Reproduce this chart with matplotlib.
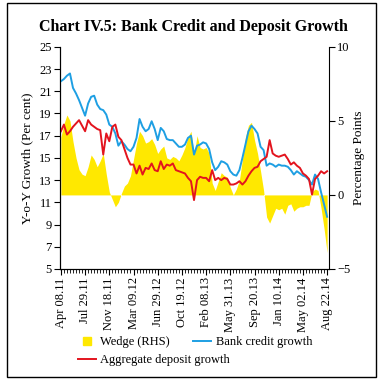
import numpy as np
import matplotlib
matplotlib.use("Agg")
import matplotlib.pyplot as plt
from matplotlib.lines import Line2D
from matplotlib.patches import Rectangle

plt.rcParams['font.family'] = ['Liberation Serif', 'DejaVu Serif']

tick_labels = ['Apr 08.11', 'Jul 29.11', 'Nov 18.11', 'Mar 09.12', 'Jun 29.12', 'Oct 19.12',
               'Feb 08.13', 'May 31.13', 'Sep 20.13', 'Jan 10.14', 'May 02.14', 'Aug 22.14']

# fortnightly y-o-y growth, per cent
credit = [21.9, 22.1, 22.4, 22.6, 21.3, 20.8, 20.2, 19.5, 18.8, 19.9,
          20.5, 20.6, 19.8, 19.4, 19.3, 18.9, 18.0, 17.8, 17.2, 16.1,
          16.5, 16.2, 15.8, 15.6, 16.0, 16.8, 18.5, 17.8, 17.4, 17.6,
          18.3, 17.6, 16.6, 17.7, 17.4, 16.7, 16.6, 16.6, 16.3, 16.0,
          16.0, 16.2, 16.8, 17.0, 15.3, 16.1, 16.2, 16.4, 16.3, 15.8,
          14.6, 13.9, 14.2, 14.7, 14.6, 14.4, 13.8, 13.5, 13.4, 13.9,
          15.0, 16.2, 17.4, 17.9, 17.6, 17.2, 16.0, 15.7, 14.3, 14.5,
          14.4, 14.2, 14.4, 14.3, 14.3, 14.2, 13.9, 13.5, 13.8, 13.6,
          13.4, 13.3, 13.0, 12.6, 13.5, 13.1, 11.9, 10.8, 9.7]
deposit = [17.4, 18.0, 17.1, 17.4, 17.8, 18.1, 18.4, 17.9, 17.4, 18.4,
           18.0, 17.8, 17.6, 17.5, 15.3, 17.2, 16.5, 17.8, 18.0, 16.9,
           16.6, 15.8, 15.0, 14.4, 14.4, 13.6, 14.3, 13.5, 14.1, 14.0,
           14.5, 13.9, 13.8, 14.7, 14.0, 14.4, 14.3, 14.5, 13.9, 13.8,
           13.7, 13.6, 13.2, 12.9, 11.2, 13.0, 13.3, 13.2, 13.2, 12.9,
           13.9, 13.0, 13.2, 13.0, 13.2, 13.1, 12.6, 12.6, 12.7, 12.9,
           12.6, 12.9, 13.4, 13.8, 14.1, 14.2, 14.7, 14.9, 15.1, 16.6,
           15.4, 15.2, 15.1, 15.2, 15.3, 14.9, 14.4, 14.6, 14.3, 14.1,
           13.6, 13.4, 13.1, 11.7, 13.1, 13.4, 13.8, 13.6, 13.8]
# wedge, percentage points (RHS)
wedge = [3.9, 4.8, 5.4, 5.0, 3.6, 2.5, 1.7, 1.4, 1.3, 1.9,
         2.7, 2.4, 1.9, 2.3, 2.8, 1.4, 0.2, -0.3, -0.8, -0.5,
         0.1, 0.6, 0.8, 1.3, 2.4, 3.5, 4.3, 4.0, 3.5, 3.6,
         3.8, 3.4, 2.8, 3.1, 3.3, 2.5, 2.4, 2.6, 2.5, 2.3,
         2.7, 3.2, 3.9, 4.3, 2.7, 4.0, 3.2, 3.1, 3.2, 2.8,
         0.8, 0.3, 0.9, 1.5, 1.3, 1.2, 0.5, 0.0, 0.4, 1.0,
         2.4, 3.9, 4.7, 4.9, 3.7, 2.8, 1.6, 0.3, -1.5, -1.9,
         -1.4, -0.9, -1.0, -0.9, -1.3, -0.7, -0.6, -1.1, -0.9, -0.8,
         -0.8, -0.7, -0.7, 0.2, 0.4, 0.3, -0.9, -2.3, -3.9]

x = np.arange(len(credit))
yellow = '#FFE800'
blue = '#1E9FE3'
red = '#E3141E'

fig = plt.figure(figsize=(3.87, 3.87), dpi=100)
fig.patches.append(Rectangle((0.018, 0.026), 0.954, 0.966, transform=fig.transFigure,
                             fill=False, edgecolor='black', linewidth=1.0))
fig.text(0.5, 0.93, 'Chart IV.5: Bank Credit and Deposit Growth', ha='center', va='center',
         fontsize=11.5, fontweight='bold')

ax = fig.add_axes([0.155, 0.305, 0.695, 0.574])
ax2 = ax.twinx()
ax2.fill_between(x, 0, wedge, color=yellow, linewidth=0)
ax2.set_ylim(-5, 10)
ax2.set_yticks([-5, 0, 5, 10])
ax.set_zorder(ax2.get_zorder() + 1)
ax.patch.set_visible(False)

ax.plot(x, credit, color=blue, lw=1.4)
ax.plot(x, deposit, color=red, lw=1.4)
ax.set_ylim(5, 25)
ax.set_yticks(range(5, 26, 2))
ax.set_xlim(-0.3, 88.6)
ax.set_xticks(x[::8])
ax.set_xticklabels(tick_labels, rotation=90)
ax.set_xticks(x, minor=True)
ax.set_ylabel('Y-o-Y Growth (Per cent)', fontsize=9.5, labelpad=4)
ax2.set_ylabel('Percentage Points', fontsize=9.5, labelpad=2)

for a in (ax, ax2):
    a.spines['top'].set_visible(False)
    a.tick_params(axis='both', labelsize=9, length=4, width=0.8, direction='out', pad=2)
    a.tick_params(axis='x', which='minor', length=3, width=0.6)
ax.spines['right'].set_visible(False)

# legend entries placed one by one, as in the reference layout
entries = [
    (Line2D([], [], marker='s', color=yellow, linestyle='none', markersize=6), 'Wedge (RHS)', 78, 342),
    (Line2D([], [], color=blue, lw=1.4), 'Bank credit growth', 193, 342),
    (Line2D([], [], color=red, lw=1.4), 'Aggregate deposit growth', 78, 360),
]
for h, lab, px, py in entries:
    fig.legend([h], [lab], loc='center left', bbox_to_anchor=(px / 387, 1 - py / 387),
               frameon=False, fontsize=9, handlelength=1.4, handletextpad=0.4,
               borderpad=0, borderaxespad=0)

fig.savefig('out.png', dpi=100)
